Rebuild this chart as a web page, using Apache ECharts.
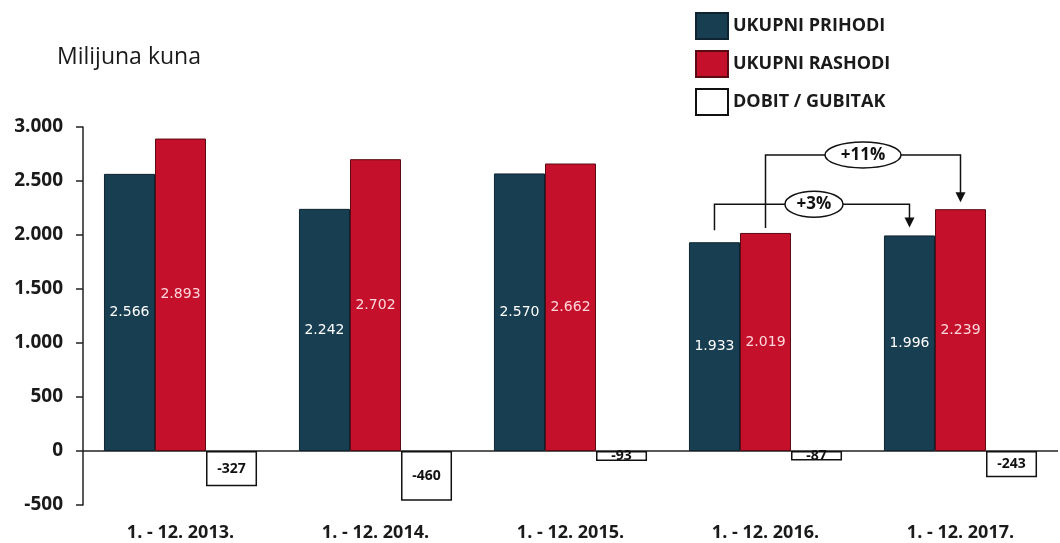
<!DOCTYPE html>
<html><head><meta charset="utf-8">
<script src="https://cdn.jsdelivr.net/npm/echarts@6/dist/echarts.min.js"></script>
<style>html,body{margin:0;padding:0;background:#fff}#c{width:1060px;height:543px}</style>
</head><body><div id="c"></div>
<script>
var categories = ['1. - 12. 2013.', '1. - 12. 2014.', '1. - 12. 2015.', '1. - 12. 2016.', '1. - 12. 2017.'];
var prihodi = [2566, 2242, 2570, 1933, 1996];
var rashodi = [2893, 2702, 2662, 2019, 2239];
var dobit = [-327, -460, -93, -87, -243];
var seriesNames = ['UKUPNI PRIHODI', 'UKUPNI RASHODI', 'DOBIT / GUBITAK'];
var changeLabels = ['+3%', '+11%'];
var yTicks = [-500, 0, 500, 1000, 1500, 2000, 2500, 3000];

function fmt(v){
  var s = Math.abs(v).toString();
  s = s.replace(/\B(?=(\d{3})+(?!\d))/g, '.');
  return (v < 0 ? '-' : '') + s;
}
var FONT = '"Open Sans", "Liberation Sans", sans-serif';
var chart = echarts.init(document.getElementById('c'));
var catGap = 0.215;
chart.setOption({
  animation: false,
  backgroundColor: '#fff',
  title: {text: 'Milijuna kuna', left: 52, top: 41, textStyle: {fontFamily: FONT, fontSize: 23, fontWeight: 'normal', color: '#1a1a1a'}},
  legend: {
    orient: 'vertical', left: 690, top: 7, itemWidth: 32, itemHeight: 26, itemGap: 10,
    icon: 'rect',
    textStyle: {fontFamily: FONT, fontSize: 18, fontWeight: 'bold', color: '#1a1a1a', padding: [0,0,0,0]},
    data: seriesNames
  },
  grid: {left: 83, right: 2, top: 127, bottom: 38, containLabel: false, outerBoundsMode: 'none'},
  xAxis: {
    type: 'category', data: categories,
    axisLine: {show: false, onZero: false},
    axisTick: {show: false},
    axisLabel: {interval: 0, fontFamily: FONT, fontSize: 18, fontWeight: 'bold', color: '#1a1a1a', margin: 19},
    position: 'bottom'
  },
  yAxis: {
    type: 'value', min: -500, max: 3000, interval: 500,
    axisLine: {show: true, lineStyle: {color: '#222', width: 1.5}},
    axisTick: {show: true, length: 7, lineStyle: {color: '#222', width: 1.5}},
    splitLine: {show: false},
    axisLabel: {fontFamily: FONT, fontSize: 19, fontWeight: 'bold', color: '#1a1a1a', margin: 20, formatter: function(v){return fmt(v);}}
  },
  series: [
    {name: seriesNames[0], type: 'bar', data: prihodi, barGap: '0%', barCategoryGap: (catGap*100)+'%',
     itemStyle: {color: '#173e51', borderColor: '#0e2430', borderWidth: 1},
     label: {show: true, position: 'inside', color: '#ffffff', fontFamily: '"DejaVu Sans", sans-serif', fontSize: 14, formatter: function(p){return fmt(p.value);}},
     markLine: {silent: true, symbol: 'none', label: {show: false}, lineStyle: {color: '#222', type: 'solid', width: 1.5}, data: [{yAxis: 0}], z: 1}},
    {name: seriesNames[1], type: 'bar', data: rashodi,
     itemStyle: {color: '#c4102a', borderColor: '#5a0a12', borderWidth: 1},
     label: {show: true, position: 'inside', color: '#ffd6dc', fontFamily: '"DejaVu Sans", sans-serif', fontSize: 14, formatter: function(p){return fmt(p.value);}}},
    {name: seriesNames[2], type: 'bar', data: dobit,
     itemStyle: {color: '#ffffff', borderColor: '#111', borderWidth: 1.5},
     label: {show: true, position: 'inside', color: '#111', fontFamily: FONT, fontWeight: 'bold', fontSize: 14, formatter: function(p){return fmt(p.value);}}}
  ]
});

(function(){
  var c0 = chart.convertToPixel({xAxisIndex:0}, 0);
  var c1 = chart.convertToPixel({xAxisIndex:0}, 1);
  var band = c1 - c0;
  var bw = band * (1 - catGap) / 3;
  function px(cat, off){ return chart.convertToPixel({xAxisIndex:0}, cat) + off*bw; }
  function py(v){ return chart.convertToPixel({yAxisIndex:0}, v); }
  var i16 = 3, i17 = 4;
  var els = [];
  var lineStyle = {stroke: '#111', lineWidth: 1.5, fill: null};
  // +3%: prihodi 2016 -> prihodi 2017
  var ax = px(i16, -1), ay0 = py(prihodi[i16]) - 12;
  var bx = px(i17, -1), by1 = py(prihodi[i17]) - 8;
  var hy = py(prihodi[i16]) - 38;
  els.push({type:'polyline', shape:{points:[[ax, ay0],[ax, hy],[bx, hy],[bx, by1-8]]}, style: lineStyle, z: 10});
  els.push({type:'polygon', shape:{points:[[bx-5, by1-10],[bx+5, by1-10],[bx, by1]]}, style:{fill:'#111'}, z: 10});
  var ex = (ax + bx)/2 + 2;
  els.push({type:'ellipse', shape:{cx: ex, cy: hy, rx: 29, ry: 13}, style:{fill:'#fff', stroke:'#111', lineWidth:1.5}, z: 11});
  els.push({type:'text', x: ex, y: hy, style:{text: changeLabels[0], font: 'bold 17px ' + FONT, fill:'#111', align:'center', verticalAlign:'middle'}, z: 12});
  // +11%: rashodi 2016 -> rashodi 2017
  var cx = px(i16, 0), cy0 = py(rashodi[i16]) - 5;
  var dx = px(i17, 0), dy1 = py(rashodi[i17]) - 7;
  var hy2 = py(rashodi[i16]) - 78;
  els.push({type:'polyline', shape:{points:[[cx, cy0],[cx, hy2],[dx, hy2],[dx, dy1-8]]}, style: lineStyle, z: 10});
  els.push({type:'polygon', shape:{points:[[dx-5, dy1-10],[dx+5, dy1-10],[dx, dy1]]}, style:{fill:'#111'}, z: 10});
  var ex2 = (cx + dx)/2;
  els.push({type:'ellipse', shape:{cx: ex2, cy: hy2, rx: 38, ry: 13}, style:{fill:'#fff', stroke:'#111', lineWidth:1.5}, z: 11});
  els.push({type:'text', x: ex2, y: hy2, style:{text: changeLabels[1], font: 'bold 17px ' + FONT, fill:'#111', align:'center', verticalAlign:'middle'}, z: 12});
  chart.setOption({graphic: els});
})();
</script>
</body></html>
